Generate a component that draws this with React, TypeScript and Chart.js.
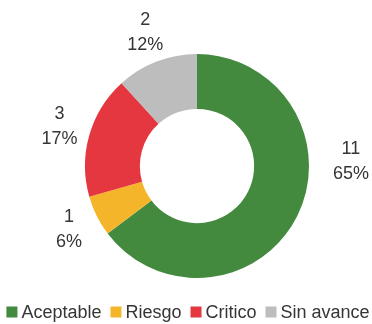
import React, { useEffect, useRef } from "react";
import { Chart, registerables } from "chart.js";

Chart.register(...registerables);

const categories = ["Aceptable", "Riesgo", "Critico", "Sin avance"];
const counts = [11, 1, 3, 2];
const percentLabels = ["65%", "6%", "17%", "12%"];
const colors = ["#438a3f", "#f5b52b", "#e5373f", "#bdbdbd"];

const FONT = "'Liberation Sans', Arial, sans-serif";
const TEXT_COLOR = "#353535";

const labelPlugin = {
  id: "sliceLabels",
  afterDatasetsDraw(chart: any) {
    const ctx = chart.ctx;
    const meta = chart.getDatasetMeta(0);
    ctx.save();
    ctx.font = `18px ${FONT}`;
    ctx.fillStyle = TEXT_COLOR;
    ctx.textAlign = "center";
    ctx.textBaseline = "middle";
    meta.data.forEach((arc: any, i: number) => {
      const p = arc.getProps(["x", "y", "startAngle", "endAngle", "outerRadius"], true);
      let angle = (p.startAngle + p.endAngle) / 2;
      let r = p.outerRadius + 31;
      // largest slice label was placed beside the ring, to the right
      if (i === 0) {
        angle = (-1.5 * Math.PI) / 180;
        r = p.outerRadius + 42;
      }
      const cx = p.x + Math.cos(angle) * r;
      const cy = p.y + Math.sin(angle) * r;
      const lh = 25;
      ctx.fillText(String(chart.data.datasets[0].data[i]), cx, cy - lh / 2);
      ctx.fillText(percentLabels[i], cx, cy + lh / 2);
    });
    ctx.restore();
  },
};

const legendPlugin = {
  id: "bottomLegend",
  afterDraw(chart: any) {
    const ctx = chart.ctx;
    const labels: string[] = chart.data.labels;
    const bg: string[] = chart.data.datasets[0].backgroundColor;
    const box = 11;
    const boxGap = 4;
    const itemGap = 9;
    const y = 312;
    ctx.save();
    ctx.font = `18px ${FONT}`;
    ctx.textBaseline = "middle";
    ctx.textAlign = "left";
    const widths = labels.map((l) => ctx.measureText(l).width);
    const total =
      widths.reduce((a, b) => a + b, 0) + labels.length * (box + boxGap) + (labels.length - 1) * itemGap;
    let x = chart.width / 2 + 2 - total / 2;
    labels.forEach((l, i) => {
      ctx.fillStyle = bg[i];
      ctx.fillRect(x, y - box / 2, box, box);
      x += box + boxGap;
      ctx.fillStyle = TEXT_COLOR;
      ctx.fillText(l, x, y + 1);
      x += widths[i] + itemGap;
    });
    ctx.restore();
  },
};

export default function App() {
  const ref = useRef<HTMLCanvasElement>(null);
  useEffect(() => {
    if (!ref.current) return;
    const chart = new Chart(ref.current, {
      type: "doughnut",
      data: {
        labels: categories,
        datasets: [
          {
            data: counts,
            backgroundColor: colors,
            borderWidth: 0,
          },
        ],
      },
      options: {
        responsive: false,
        animation: false,
        devicePixelRatio: 1,
        cutout: "51%",
        layout: { padding: { top: 54, bottom: 46, left: 85, right: 63 } },
        plugins: {
          legend: { display: false },
          tooltip: { enabled: false },
        },
      },
      plugins: [labelPlugin, legendPlugin],
    });
    return () => chart.destroy();
  }, []);
  return (
    <div style={{ position: "fixed", left: 0, top: 0, width: 372, height: 324, background: "#fff" }}>
      <canvas ref={ref} width={372} height={324} />
    </div>
  );
}
